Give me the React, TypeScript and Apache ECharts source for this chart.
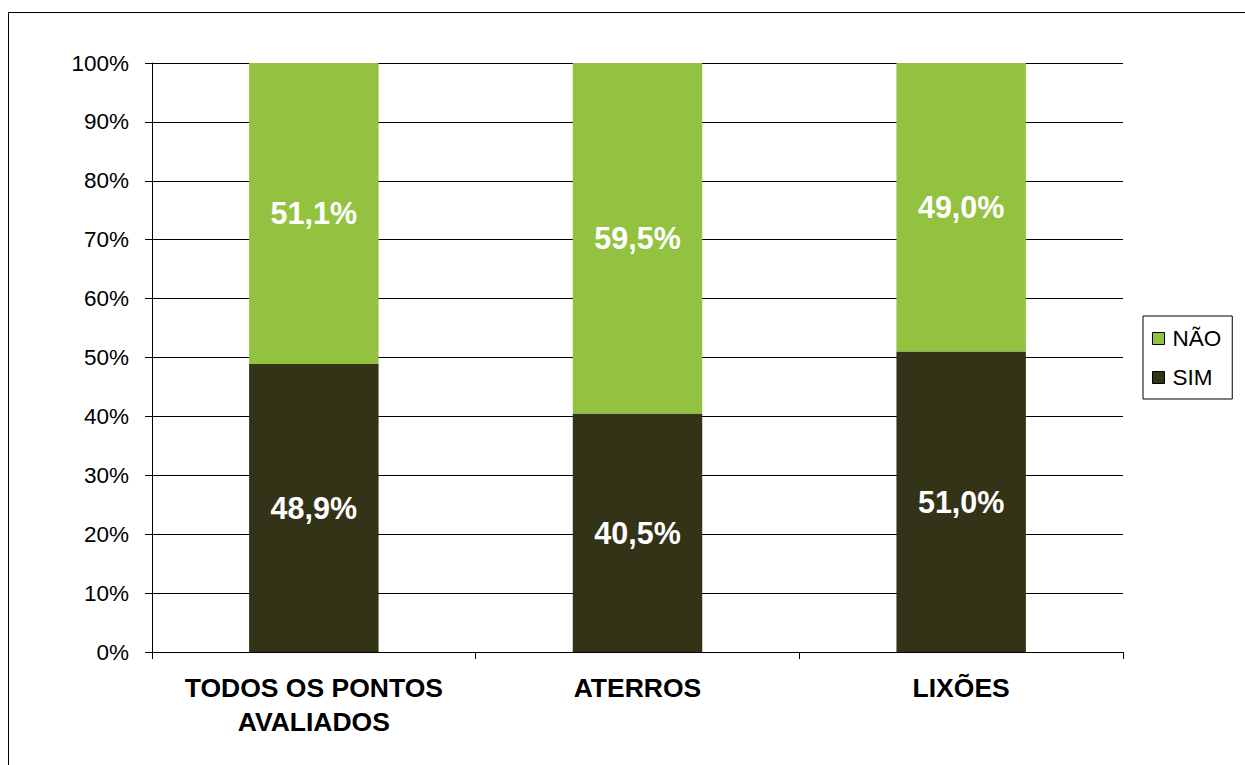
import React, { useEffect, useRef } from "react";
import * as echarts from "echarts";

const categories = ["TODOS OS PONTOS\nAVALIADOS", "ATERROS", "LIXÕES"];
const simValues = [48.9, 40.5, 51.0];
const naoValues = [51.1, 59.5, 49.0];
const seriesNames = ["NÃO", "SIM"];

const fmt = (v: number) => v.toFixed(1).replace(".", ",") + "%";
const FONT = "'Liberation Sans', Arial, sans-serif";

export default function App() {
  const ref = useRef<HTMLDivElement>(null);
  useEffect(() => {
    const chart = echarts.init(ref.current!, undefined, { renderer: "svg" });
    const labelStyle = {
      show: true,
      position: "inside" as const,
      color: "#ffffff",
      fontWeight: "bold" as const,
      fontSize: 30.5,
      fontFamily: FONT,
      formatter: (p: any) => fmt(p.value),
    };
    chart.setOption({
      animation: false,
      textStyle: { fontFamily: FONT },
      graphic: [
        {
          type: "rect",
          shape: { x: 8.5, y: 12.5, width: 1400, height: 900 },
          style: { fill: "none", stroke: "#000", lineWidth: 1 },
          silent: true,
        },
      ],
      grid: { left: 152, right: 122, top: 63, bottom: 113 },
      legend: {
        orient: "vertical",
        left: 1143,
        top: 316,
        data: seriesNames,
        borderColor: "#000",
        borderWidth: 1,
        padding: [11, 11, 10, 9],
        itemWidth: 12,
        itemHeight: 12,
        itemGap: 16,
        icon: "rect",
        textStyle: { fontSize: 22.5, color: "#000", fontFamily: FONT, padding: [0, 0, 0, 3] },
        itemStyle: { borderColor: "#000", borderWidth: 1 },
      },
      xAxis: {
        type: "category",
        data: categories,
        axisLine: { lineStyle: { color: "#000", width: 1 } },
        axisTick: { show: true, length: 7, lineStyle: { color: "#000" } },
        axisLabel: {
          color: "#000",
          fontSize: 26.5,
          fontWeight: "bold",
          fontFamily: FONT,
          margin: 19,
          lineHeight: 34,
          interval: 0,
        },
      },
      yAxis: {
        type: "value",
        min: 0,
        max: 100,
        interval: 10,
        axisLine: { show: true, lineStyle: { color: "#000", width: 1 } },
        axisTick: { show: true, length: 7, lineStyle: { color: "#000" } },
        axisLabel: {
          color: "#000",
          fontSize: 22.5,
          fontFamily: FONT,
          margin: 23,
          formatter: (v: number) => v + "%",
        },
        splitLine: { show: true, lineStyle: { color: "#000", width: 1 } },
      },
      series: [
        {
          name: "SIM",
          type: "bar",
          stack: "total",
          barWidth: "40%",
          data: simValues,
          itemStyle: { color: "#333317" },
          label: labelStyle,
        },
        {
          name: "NÃO",
          type: "bar",
          stack: "total",
          barWidth: "40%",
          data: naoValues,
          itemStyle: { color: "#93C240" },
          label: labelStyle,
        },
      ],
    });
    return () => chart.dispose();
  }, []);
  return (
    <div
      ref={ref}
      style={{ position: "fixed", left: 0, top: 0, width: 1245, height: 765, background: "#fff" }}
    />
  );
}
